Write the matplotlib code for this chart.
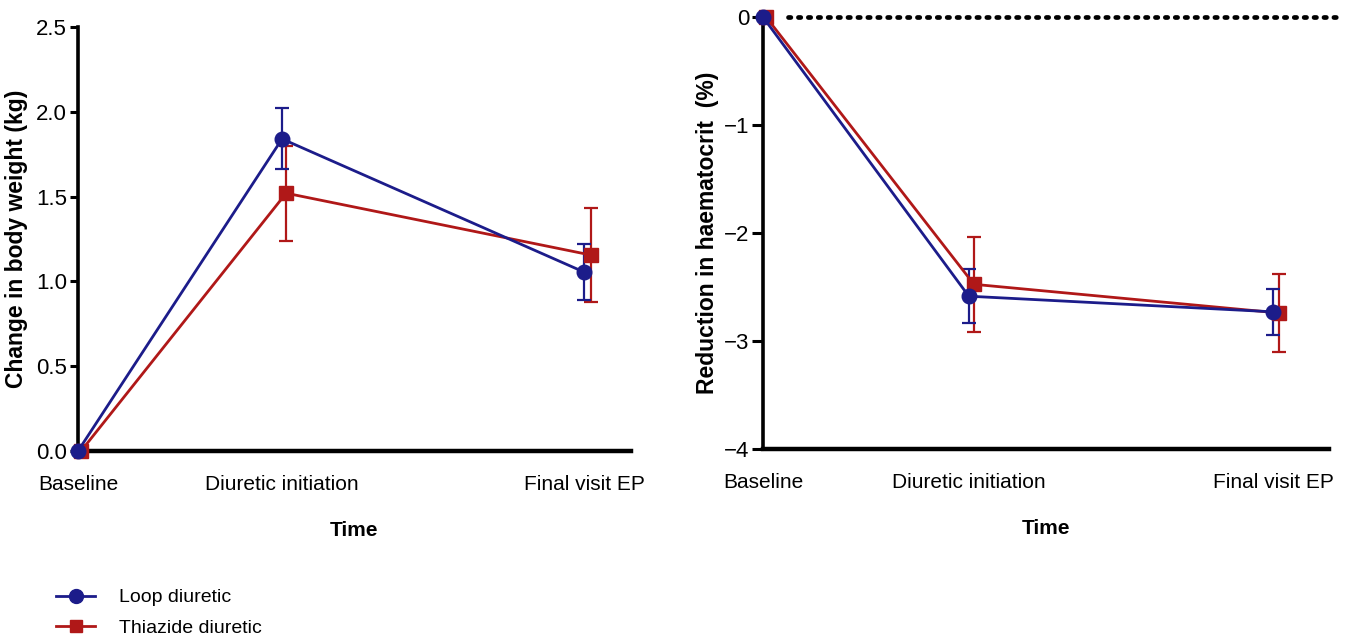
import matplotlib
matplotlib.use("Agg")
import matplotlib.pyplot as plt
from matplotlib.lines import Line2D

# ---- data ----
time_labels = ["Baseline", "Diuretic initiation", "Final visit EP"]
time_pos = [0.0, 1.0, 2.48]

weight_loop = [0.0, 1.84, 1.055]
weight_loop_err = [0.0, 0.18, 0.165]
weight_thz = [0.0, 1.52, 1.155]
weight_thz_err = [0.0, 0.28, 0.275]

hct_loop = [0.0, -2.585, -2.73]
hct_loop_err = [0.0, 0.25, 0.215]
hct_thz = [0.0, -2.475, -2.74]
hct_thz_err = [0.0, 0.44, 0.365]

series_names = ["Loop diuretic", "Thiazide diuretic"]

# ---- style ----
plt.rcParams['font.family'] = ["Liberation Sans", "DejaVu Sans"]
plt.rcParams['axes.unicode_minus'] = True

BLUE = "#1c1c8a"
RED = "#b01818"

fig = plt.figure(figsize=(13.52, 6.42), dpi=100)
ax1 = fig.add_axes([0.0577, 0.2975, 0.4090, 0.6605])
ax2 = fig.add_axes([0.5643, 0.3006, 0.4187, 0.6729])

def style_axes(ax):
    for s in ["top", "right"]:
        ax.spines[s].set_visible(False)
    ax.spines["left"].set_linewidth(2.6)
    ax.spines["bottom"].set_linewidth(3.2)
    ax.tick_params(axis="y", width=2.2, length=6, labelsize=16, pad=2)
    ax.tick_params(axis="x", length=0, labelsize=15, pad=17)
    ax.set_xticks(time_pos)
    ax.set_xticklabels(time_labels)
    ax.set_xlabel("Time", fontsize=15, fontweight="bold", labelpad=20)

def plot_series(ax, y, e, color, marker, ms, dx):
    xs = [p + d for p, d in zip(time_pos, dx)]
    ax.errorbar(xs, y, yerr=e, color=color, lw=2.0, marker=marker, ms=ms,
                elinewidth=1.6, capsize=5, capthick=1.6, clip_on=False, zorder=3)

# left panel
plot_series(ax1, weight_thz, weight_thz_err, RED, "s", 9.5, [0.015, 0.02, 0.035])
plot_series(ax1, weight_loop, weight_loop_err, BLUE, "o", 10.5, [0.0, 0.0, 0.0])
ax1.set_xlim(0, 2.71)
ax1.set_ylim(0, 2.5)
ax1.set_yticks([0, 0.5, 1.0, 1.5, 2.0, 2.5])
ax1.set_yticklabels(["0.0", "0.5", "1.0", "1.5", "2.0", "2.5"])
style_axes(ax1)
ax1.set_ylabel("Change in body weight (kg)", fontsize=16.5, fontweight="bold", labelpad=6)

# right panel
ax2.plot([0.12, 2.8], [0, 0], color="black", lw=3.4, linestyle=(0, (0.5, 1.6)),
         dash_capstyle="round", clip_on=False, zorder=1)
plot_series(ax2, hct_thz, hct_thz_err, RED, "s", 9.5, [0.015, 0.025, 0.025])
plot_series(ax2, hct_loop, hct_loop_err, BLUE, "o", 10.5, [0.0, 0.0, 0.0])
ax2.set_xlim(0, 2.75)
ax2.set_ylim(-4, 0)
ax2.set_yticks([0, -1, -2, -3, -4])
style_axes(ax2)
ax2.tick_params(axis="y", length=8)
ax2.set_ylabel("Reduction in haematocrit  (%)", fontsize=16.5, fontweight="bold", labelpad=3)

# legend
handles = [Line2D([], [], color=BLUE, lw=2.0, marker="o", ms=10),
           Line2D([], [], color=RED, lw=2.0, marker="s", ms=9)]
fig.legend(handles, series_names, loc="upper left", bbox_to_anchor=(0.036, 0.095),
           frameon=False, fontsize=14, handlelength=2.0, handletextpad=1.2,
           labelspacing=0.65, borderaxespad=0)

fig.savefig("out.png", dpi=100)
